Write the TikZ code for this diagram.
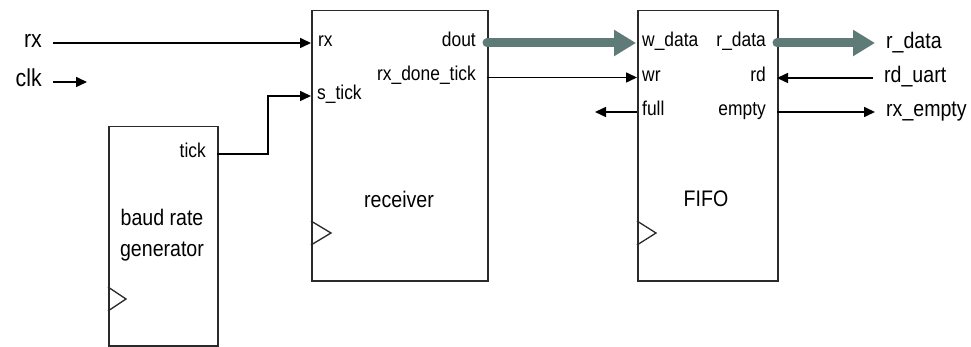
\documentclass[tikz,border=0pt]{standalone}
\usepackage{fontspec}
\setmainfont{Liberation Sans}[FakeStretch=0.87]
\usetikzlibrary{arrows.meta}
\definecolor{busgray}{HTML}{5F7B78}
\definecolor{boxline}{HTML}{2A2A2A}
\begin{document}
\begin{tikzpicture}[x=1pt,y=-1pt,
  box/.style={draw=boxline,line width=1.5pt,rectangle,inner sep=0pt,anchor=north west},
  portl/.style={inner sep=0pt,anchor=mid west,font=\fontsize{20}{22}\selectfont},
  portr/.style={inner sep=0pt,anchor=mid east,font=\fontsize{20}{22}\selectfont},
  extl/.style={inner ysep=0pt,inner xsep=11pt,anchor=mid east,font=\fontsize{24.5}{26}\selectfont},
  extr/.style={inner ysep=0pt,inner xsep=11pt,anchor=mid west,font=\fontsize{22.5}{24}\selectfont},
  title/.style={inner sep=0pt,anchor=base,align=center,font=\fontsize{22.5}{32}\selectfont},
  sig/.style={line width=1.6pt,-{Triangle[length=11pt,width=10pt]}},
  bus/.style={line width=9pt,busgray,line cap=round,-{Triangle[length=22pt,width=25pt]}},
  clock/.style={line width=1.3pt,boxline}
]
\useasboundingbox (0,0) rectangle (971,347);
% boxes
\node[box,minimum width=176pt,minimum height=270pt] (rcv) at (311,10) {};
\node[box,minimum width=140pt,minimum height=270pt] (fifo) at (637,10) {};
\node[box,minimum width=109pt,minimum height=219pt] (baud) at (108,126) {};
% titles
\node[title] (trcv) at (399,208) {receiver};
\node[title] (tfifo) at (706,207) {FIFO};
\node[title] (tbaud) at (162,257) {baud rate\\generator};
% clock triangles
\draw[clock] (311,221) -- (331,233) -- (311,245);
\draw[clock] (637,221) -- (656,233) -- (637,245);
\draw[clock] (108,287) -- (126,299) -- (108,311);
% port coordinates
\coordinate (rcv-rx) at (311,43);
\coordinate (rcv-stick) at (311,96);
\coordinate (rcv-dout) at (487,43);
\coordinate (rcv-done) at (487,77.5);
\coordinate (baud-tick) at (217,154);
\coordinate (bend) at (268,96);
\coordinate (fifo-wdata) at (637,43);
\coordinate (fifo-wr) at (637,77.5);
\coordinate (fifo-full) at (637,112);
\coordinate (fifo-rdata) at (777,43);
\coordinate (fifo-rd) at (777,78);
\coordinate (fifo-empty) at (777,112);
\coordinate (full-end) at (595,112);
% port labels
\node[portl] (prx) at (318,44) {rx};
\node[portl] (pstick) at (317,97) {s\_tick};
\node[portr] (pdout) at (476,44) {dout};
\node[portr] (pdone) at (476,78) {rx\_done\_tick};
\node[portr] (ptick) at (206,155) {tick};
\node[portl] (pwdata) at (642,44) {w\_data};
\node[portl] (pwr) at (642,79) {wr};
\node[portl] (pfull) at (642,113) {full};
\node[portr] (prdata) at (766,44) {r\_data};
\node[portr] (prd) at (766,79) {rd};
\node[portr] (pempty) at (766,113) {empty};
% external labels
\node[extl] (xrx) at (53,45) {rx};
\node[extl] (xclk) at (53,84) {clk};
\node[extr] (xrdata) at (875,46) {r\_data};
\node[extr] (xrduart) at (873,80) {rd\_uart};
\node[extr] (xempty) at (875,114) {rx\_empty};
\coordinate (clk-end) at (87,82);
% connectors
\draw[sig] (xrx.mid east |- rcv-rx) -- (rcv-rx);
\draw[sig] (xclk.mid east |- clk-end) -- (clk-end);
\draw[sig] (baud-tick) -| (bend) -- (rcv-stick);
\draw[sig] (rcv-done) -- (fifo-wr);
\draw[sig] (fifo-full) -- (full-end);
\draw[sig] (xrduart.mid west |- fifo-rd) -- (fifo-rd);
\draw[sig] (fifo-empty) -- (xempty.mid west |- fifo-empty);
\draw[bus] (rcv-dout) -- ([xshift=-1pt]fifo-wdata);
\draw[bus] (fifo-rdata) -- (xrdata.mid west |- fifo-rdata);
\end{tikzpicture}
\end{document}
